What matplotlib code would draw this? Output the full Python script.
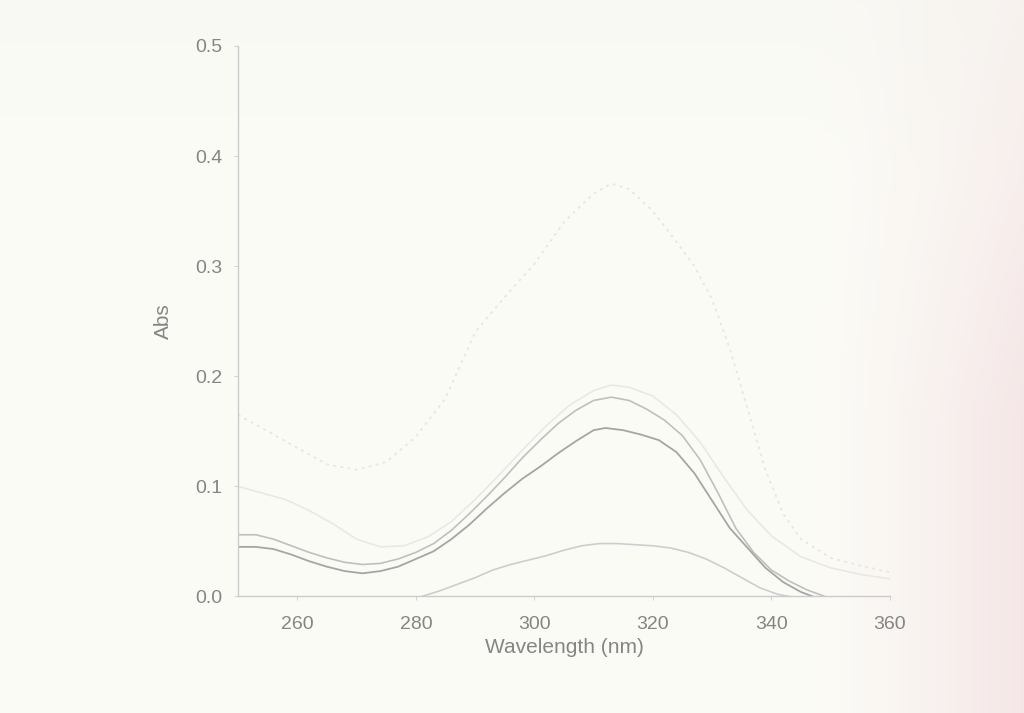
import matplotlib
matplotlib.use("Agg")
import matplotlib.pyplot as plt
import numpy as np

##########################
# wavelength (nm) and absorbance
wl_d = [250, 253, 256, 259, 262, 265, 268, 271, 274, 277, 280, 283, 286, 289, 292, 295,
        298, 301, 304, 307, 310, 312, 315, 318, 321, 324, 327, 330, 333, 336, 339, 342, 345, 347]
abs_d = [0.045, 0.045, 0.043, 0.038, 0.032, 0.027, 0.023, 0.021, 0.023, 0.027, 0.034, 0.041,
         0.052, 0.065, 0.080, 0.094, 0.107, 0.118, 0.130, 0.141, 0.151, 0.153, 0.151, 0.147,
         0.142, 0.131, 0.112, 0.087, 0.062, 0.044, 0.026, 0.013, 0.004, 0.0]

wl_c = [250, 253, 256, 259, 262, 265, 268, 271, 274, 277, 280, 283, 286, 289, 292, 295,
        298, 301, 304, 307, 310, 313, 316, 319, 322, 325, 328, 331, 334, 337, 340, 343, 346, 349]
abs_c = [0.056, 0.056, 0.052, 0.046, 0.040, 0.035, 0.031, 0.029, 0.030, 0.034, 0.040, 0.048,
         0.060, 0.075, 0.091, 0.108, 0.126, 0.142, 0.157, 0.169, 0.178, 0.181, 0.178, 0.170,
         0.160, 0.146, 0.124, 0.094, 0.062, 0.040, 0.024, 0.014, 0.006, 0.0]

wl_b = [281, 284, 287, 290, 293, 296, 299, 302, 305, 308, 311, 314, 317, 320, 323, 326,
        329, 332, 335, 338, 341, 343]
abs_b = [0.0, 0.005, 0.011, 0.017, 0.024, 0.029, 0.033, 0.037, 0.042, 0.046, 0.048, 0.048,
         0.047, 0.046, 0.044, 0.040, 0.034, 0.026, 0.017, 0.008, 0.002, 0.0]

wl_f = [250, 254, 258, 262, 266, 270, 274, 278, 282, 286, 290, 294, 298, 302, 306, 310,
        313, 316, 320, 324, 328, 332, 336, 340, 345, 350, 355, 360]
abs_f = [0.100, 0.094, 0.088, 0.078, 0.066, 0.052, 0.045, 0.046, 0.054, 0.068, 0.088, 0.110,
         0.133, 0.155, 0.174, 0.187, 0.192, 0.190, 0.182, 0.165, 0.140, 0.108, 0.078, 0.055,
         0.036, 0.026, 0.020, 0.016]

wl_e = [250, 255, 260, 265, 270, 275, 280, 285, 290, 295, 300, 305, 310, 313, 316, 320,
        324, 327, 330, 333, 336, 339, 342, 345, 350, 355, 360]
abs_e = [0.165, 0.150, 0.135, 0.120, 0.115, 0.122, 0.145, 0.180, 0.240, 0.272, 0.302, 0.340,
         0.366, 0.375, 0.370, 0.350, 0.322, 0.300, 0.270, 0.225, 0.170, 0.115, 0.075, 0.052,
         0.035, 0.028, 0.022]

xticks = [260, 280, 300, 320, 340, 360]
yticks = [0.0, 0.1, 0.2, 0.3, 0.4, 0.5]
#########################

plt.rcParams['font.family'] = ['Liberation Sans', 'DejaVu Sans']
txt = '#858585'

fig = plt.figure(figsize=(10.24, 7.13), dpi=100)

# paper tone of the photographed page
bg = fig.add_axes([0, 0, 1, 1], zorder=-5)
gx = np.linspace(0, 1, 256)
gy = np.linspace(0, 1, 180)
X, Y = np.meshgrid(gx, gy)
w = np.clip((X - 0.78) / 0.22, 0, 1) ** 1.4 * np.clip(0.35 + Y * 1.1, 0, 1)
base = np.array([0.988, 0.988, 0.968])
pink = np.array([0.960, 0.905, 0.905])
img = base[None, None, :] * (1 - w[..., None]) + pink[None, None, :] * w[..., None]
img = img - 0.010 * np.clip(1 - Y[..., None] * 4, 0, 1)
bg.imshow(np.clip(img, 0, 1), aspect='auto', extent=[0, 1, 0, 1], origin='upper')
bg.axis('off')

a = fig.add_axes([0.2325, 0.1635, 0.6365, 0.772])
a.patch.set_alpha(0)

a.plot(wl_e, abs_e, color='#e6e6e2', lw=1.3, linestyle=(0, (1.5, 2.5)))
a.plot(wl_f, abs_f, color='#e8e8e6', lw=1.2)
a.plot(wl_c, abs_c, color='#bfbfbf', lw=1.2)
a.plot(wl_d, abs_d, color='#a5a5a5', lw=1.3)
a.plot(wl_b, abs_b, color='#cdcdcd', lw=1.2)

a.set_xlim(250, 360)
a.set_ylim(0, 0.5)
a.set_xticks(xticks)
a.set_yticks(yticks)
a.set_yticklabels(['%.1f' % v for v in yticks])
for s in ['top', 'right']:
    a.spines[s].set_visible(False)
for s in ['left', 'bottom']:
    a.spines[s].set_color('#cbcbcb')
    a.spines[s].set_linewidth(1.0)
a.tick_params(axis='both', colors='#d4d4d4', labelcolor=txt, labelsize=14, length=3)
a.tick_params(axis='x', pad=11)
a.tick_params(axis='y', pad=8)
a.set_xlabel('Wavelength (nm)', fontsize=15, color=txt, labelpad=4)
a.set_ylabel('Abs', fontsize=15, color=txt, labelpad=16)

plt.savefig('out.png', dpi=100)
